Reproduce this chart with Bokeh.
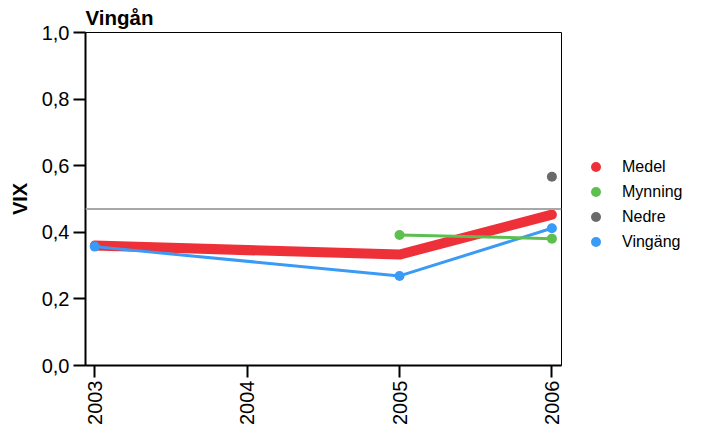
from bokeh.plotting import figure
from bokeh.models import Range1d, FixedTicker, Legend, LegendItem, Span
from bokeh.embed import file_html
from bokeh.resources import INLINE

title = "Vingån"
ylabel = "VIX"
ref_level = 0.47

years = [2003, 2004, 2005, 2006]
y_ticks = [0.0, 0.2, 0.4, 0.6, 0.8, 1.0]
y_tick_labels = ["0,0", "0,2", "0,4", "0,6", "0,8", "1,0"]

medel_x = [2003, 2005, 2006]
medel_y = [0.360, 0.333, 0.453]
mynning_x = [2005, 2006]
mynning_y = [0.392, 0.381]
nedre_x = [2006]
nedre_y = [0.567]
vingang_x = [2003, 2005, 2006]
vingang_y = [0.357, 0.269, 0.412]

names = ["Medel", "Mynning", "Nedre", "Vingäng"]
colors = ["#EE3139", "#5CBF4F", "#6A6A6A", "#3A9BF7"]

FONT = "Liberation Sans"

p = figure(frame_width=476, frame_height=333, output_backend="svg", toolbar_location=None,
           x_range=Range1d(2002.939, 2006.063), y_range=Range1d(0, 1),
           min_border_left=85, min_border_top=32, min_border_bottom=10, min_border_right=10)
p.title.text = title
p.title.text_font = FONT
p.title.text_font_size = "20.5px"
p.title.text_font_style = "bold"
p.title.text_color = "black"
p.title.align = "left"
p.title.offset = 0
p.title.standoff = 7

p.xgrid.visible = False
p.ygrid.visible = False
p.outline_line_color = "black"
p.outline_line_width = 1
p.outline_line_alpha = 1
p.background_fill_color = "white"
p.border_fill_color = "white"

for ax in (p.xaxis[0], p.yaxis[0]):
    ax.axis_line_width = 2
    ax.axis_line_color = "black"
    ax.major_tick_line_width = 2
    ax.major_tick_in = 0
    ax.major_tick_out = 12
    ax.minor_tick_line_color = None
    ax.major_label_text_font = FONT
    ax.major_label_text_font_size = "20px"
    ax.major_label_text_color = "black"

p.xaxis.ticker = FixedTicker(ticks=years)
p.xaxis.major_label_orientation = 1.5707963
p.xaxis.major_label_standoff = 3
p.yaxis.ticker = FixedTicker(ticks=y_ticks)
p.yaxis.major_label_overrides = {t: l for t, l in zip(y_ticks, y_tick_labels)}
p.yaxis.major_label_standoff = 4
p.yaxis.axis_label = ylabel
p.yaxis.axis_label_text_font = FONT
p.yaxis.axis_label_text_font_size = "20px"
p.yaxis.axis_label_text_font_style = "bold"
p.yaxis.axis_label_text_color = "black"
p.yaxis.axis_label_standoff = 8

p.add_layout(Span(location=ref_level, dimension="width", line_color="#A8A8A8", line_width=2))

p.line(medel_x, medel_y, line_color=colors[0], line_width=10, line_cap="round", line_join="round")
p.line(vingang_x, vingang_y, line_color=colors[3], line_width=3)
p.scatter(vingang_x, vingang_y, size=10, fill_color=colors[3], line_color=None)
p.line(mynning_x, mynning_y, line_color=colors[1], line_width=3)
p.scatter(mynning_x, mynning_y, size=10, fill_color=colors[1], line_color=None)
p.scatter(nedre_x, nedre_y, size=10, fill_color=colors[2], line_color=None)

nan = float("nan")
items = []
for n, c in zip(names, colors):
    r = p.scatter(x=[nan], y=[nan], size=10, fill_color=c, line_color=None)
    items.append(LegendItem(label=n, renderers=[r], index=0))

legend = Legend(items=items, location=(22, 111), orientation="vertical",
                glyph_width=25, glyph_height=25, label_height=25, spacing=0,
                padding=5, margin=0, label_standoff=14,
                label_text_font=FONT, label_text_font_size="16px", label_text_color="black",
                border_line_color=None, background_fill_alpha=0)
p.add_layout(legend, "right")

open("out.html", "w").write(file_html(p, INLINE))
